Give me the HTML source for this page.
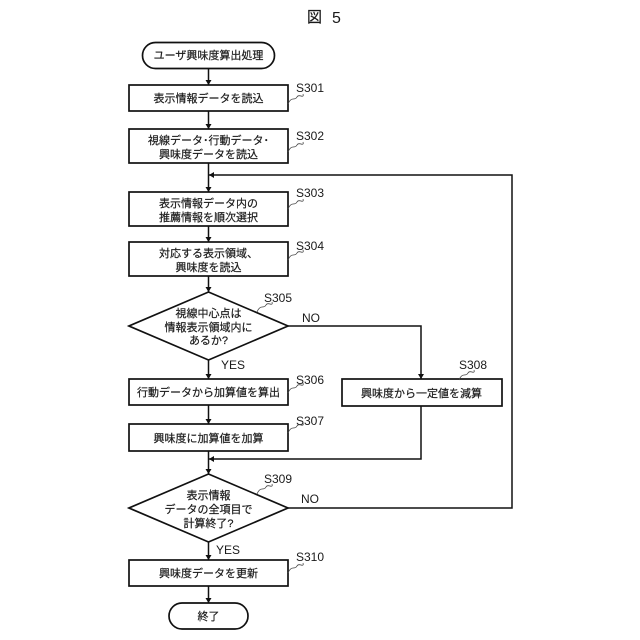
<!DOCTYPE html>
<html lang="ja"><head><meta charset="utf-8"><style>
html,body{margin:0;padding:0;background:#fff}
svg{display:block}
text{font-family:"Liberation Sans","Noto Sans CJK JP",sans-serif;fill:#1a1a1a}
.t{font-size:11px;text-anchor:middle;stroke:#1a1a1a;stroke-width:.2}
.s{font-size:12px}
.b{fill:#fff;stroke:#111;stroke-width:1.7}
.l{fill:none;stroke:#111;stroke-width:1.5}
.w{fill:none;stroke:#444;stroke-width:.8}
.a{fill:#111}
</style></head><body>
<svg width="640" height="640" viewBox="0 0 640 640" xmlns="http://www.w3.org/2000/svg">
<text x="307" y="22" style="font-size:15px;stroke:#1a1a1a;stroke-width:.2">図</text>
<text x="332" y="23" style="font-size:16px">5</text>

<!-- connectors -->
<path class="l" d="M208.500 68V85M208.500 111V129M208.500 163V192M208.500 226V242M208.500 276V292M208.500 360V379M208.500 405V424M208.500 451V474M208.500 542V560M208.500 586V603"/>
<path class="l" d="M288 326H421V379M421 406V459H208.500M288 508H512V175H208.500"/>
<path class="a" d="M205.500 80l3 5 3-5zM205.500 124l3 5 3-5zM205.500 187l3 5 3-5zM205.500 237l3 5 3-5zM205.500 287l3 5 3-5zM205.500 374l3 5 3-5zM205.500 419l3 5 3-5zM205.500 469l3 5 3-5zM205.500 555l3 5 3-5zM205.500 598l3 5 3-5zM418 374l3 5 3-5zM209 175l5-3v6zM209 459l5-3v6z"/>

<!-- shapes -->
<rect class="b" x="142.500" y="42.500" width="132" height="26" rx="13"/>
<rect class="b" x="129" y="85" width="159" height="26"/>
<rect class="b" x="129" y="129" width="159" height="34"/>
<rect class="b" x="129" y="192" width="159" height="34"/>
<rect class="b" x="129" y="242" width="159" height="34"/>
<polygon class="b" points="208.500,292 288,326 208.500,360 129,326"/>
<rect class="b" x="129" y="379" width="159" height="26"/>
<rect class="b" x="129" y="424" width="159" height="27"/>
<rect class="b" x="342" y="379" width="160" height="27"/>
<polygon class="b" points="208.500,474 288,508 208.500,542 129,508"/>
<rect class="b" x="129" y="560" width="159" height="26"/>
<rect class="b" x="169" y="603" width="79" height="26" rx="13"/>

<!-- node labels -->
<text class="t" x="208.500" y="59">ユーザ興味度算出処理</text>
<text class="t" x="208.500" y="102">表示情報データを読込</text>
<text class="t" x="208.500" y="144">視線データ･行動データ･</text>
<text class="t" x="208.500" y="158">興味度データを読込</text>
<text class="t" x="208.500" y="207">表示情報データ内の</text>
<text class="t" x="208.500" y="221">推薦情報を順次選択</text>
<text class="t" x="208.500" y="257">対応する表示領域、</text>
<text class="t" x="208.500" y="271">興味度を読込</text>
<text class="t" x="208.500" y="317">視線中心点は</text>
<text class="t" x="208.500" y="331">情報表示領域内に</text>
<text class="t" x="208.500" y="344">あるか?</text>
<text class="t" x="208.500" y="396">行動データから加算値を算出</text>
<text class="t" x="208.500" y="442">興味度に加算値を加算</text>
<text class="t" x="421.500" y="397">興味度から一定値を減算</text>
<text class="t" x="208.500" y="499">表示情報</text>
<text class="t" x="208.500" y="513">データの全項目で</text>
<text class="t" x="208.500" y="527">計算終了?</text>
<text class="t" x="208.500" y="577">興味度データを更新</text>
<text class="t" x="208.500" y="620">終了</text>

<!-- step labels -->
<text class="s" x="296" y="92">S301</text>
<text class="s" x="296" y="140">S302</text>
<text class="s" x="296" y="197">S303</text>
<text class="s" x="296" y="250">S304</text>
<text class="s" x="264" y="302">S305</text>
<text class="s" x="296" y="384">S306</text>
<text class="s" x="296" y="425">S307</text>
<text class="s" x="459" y="369">S308</text>
<text class="s" x="264" y="483">S309</text>
<text class="s" x="296" y="561">S310</text>

<!-- callout squiggles -->
<path class="w" d="M288 104q2-5 5-5t4-2 4-1 2-2"/>
<path class="w" d="M288 152q2-5 5-5t4-2 4-1 2-2"/>
<path class="w" d="M288 209q2-5 5-5t4-2 4-1 2-2"/>
<path class="w" d="M288 260q2-5 5-5t4-2 4-1 2-2"/>
<path class="w" d="M257 312q2-5 5-5t4-2 4-1 2-2"/>
<path class="w" d="M288 393q2-5 5-5t4-2 4-1 2-2"/>
<path class="w" d="M288 433q2-5 5-5t4-2 4-1 2-2"/>
<path class="w" d="M459 380q2-5 5-5t4-2 4-1 2-2"/>
<path class="w" d="M257 494q2-5 5-5t4-2 4-1 2-2"/>
<path class="w" d="M288 573q2-5 5-5t4-2 4-1 2-2"/>

<!-- branch labels -->
<text class="s" x="302" y="322">NO</text>
<text class="s" x="221" y="369">YES</text>
<text class="s" x="301" y="503">NO</text>
<text class="s" x="216" y="554">YES</text>
</svg>
</body></html>
